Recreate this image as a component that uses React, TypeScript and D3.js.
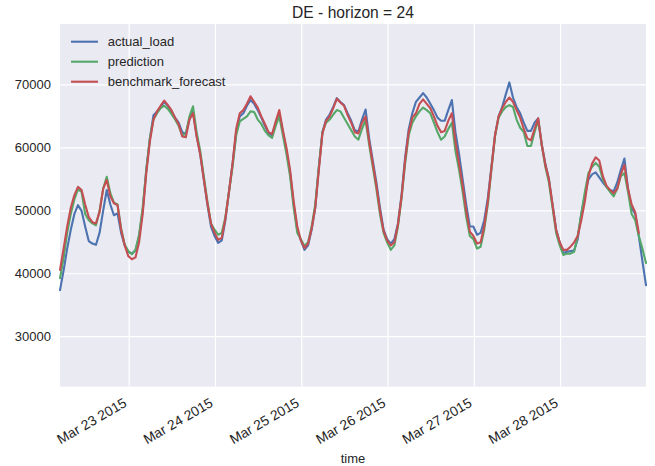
import * as d3 from 'd3'

// hourly series, first point 2015-03-22 04:45 UTC
const START = Date.UTC(2015, 2, 22, 4, 45)

const actualLoad: (number | null)[] = [
  // Mar 22
  37400, 40500, 44000, 47000, 49500, 50900, 50000, 47500, 45200, 44800, 44600, 46500, 50000, 53300, 51000, 49300, 49600, 46500, 44500,
  // Mar 23
  43500, 43200, 43700, 46000, 50000, 56500, 61500, 65200, 65800, 66500, 67300, 66700, 65800, 64800, 64000, 62500, 62200, 64500, 65800, 62000, 59000, 55000, 51000, 47500,
  // Mar 24
  46000, 44900, 45300, 48500, 53000, 57500, 62500, 65000, 65500, 66700, 67600, 67000, 66000, 64800, 63500, 62300, 62000, 64000, 65500, 62500, 59500, 56000, 51000, 47000,
  // Mar 25
  45300, 43800, 44500, 47000, 50500, 57000, 62500, 64500, 65300, 66500, 67900, 67300, 66800, 65500, 64300, 62800, 62600, 64500, 66100, 61500, 58000, 54500, 50500, 47000,
  // Mar 26
  45500, 44800, 45500, 48000, 52500, 58500, 63000, 65500, 67300, 68000, 68700, 68000, 67000, 66000, 64800, 64300, 64300, 66000, 67600, 62500, 59000, 55000, 51000, 47500,
  // Mar 27
  47500, 46200, 46500, 48500, 52000, 57000, 62000, 65000, 66500, 68500, 70400, 68000, 66500, 65500, 64000, 62700, 62700, 64000, 64700, 60500, 57500, 55000, 51000, 47000,
  // Mar 28
  45000, 43300, 43500, 43600, 43700, 45500, 49500, 52500, 55000, 55800, 56100, 55300, 54500, 53800, 53300, 53100, 54500, 56500, 58300, 53500, 50500, 49500, 46000, 42000,
  38200,
]

const prediction: (number | null)[] = [
  39300, 42500, 46500, 49500, 51800, 53400, 53000, 49500, 48500, 48000, 47700, 50000, 53500, 55400, 52800, 51300, 51000, 47200, 44600,
  43600, 43100, 43800, 46200, 50500, 56500, 61500, 64500, 65500, 66300, 66700, 66200, 65400, 64500, 63500, 62000, 62200, 65000, 66600, 62500, 59500, 55500, 51500, 48000,
  47000, 46200, 46500, 49000, 53000, 57000, 62000, 64200, 64600, 65000, 65800, 65700, 64500, 63800, 62700, 62000, 61600, 63500, 65000, 62000, 59000, 55500, 50500, 46500,
  45500, 44400, 45000, 47500, 51000, 57000, 62500, 64000, 64500, 65300, 66000, 65800, 64800, 63800, 62800, 61800, 61300, 63000, 64400, 60500, 57000, 53500, 49500, 46500,
  45000, 43800, 44500, 47500, 52000, 57500, 62000, 64000, 65000, 65800, 66400, 66000, 65500, 64000, 62500, 61300, 61800, 63000, 64000, 59500, 56500, 53000, 49000, 46000,
  45500, 44000, 44300, 47000, 51000, 56500, 61800, 64800, 65800, 66500, 66800, 66500, 64500, 63200, 62500, 60300, 60300, 62500, 64400, 60500, 57000, 54500, 50500, 46500,
  44500, 43000, 43200, 43200, 43500, 46000, 49500, 53000, 56000, 57000, 57600, 57000, 55000, 53800, 53000, 52300, 53500, 55500, 56000, 53000, 49500, 48500, 46000, 44000,
  41700,
]

const benchmarkForecast: (number | null)[] = [
  40600, 44000, 47500, 50500, 52500, 53800, 53300, 51000, 49000, 48200, 48000, 49800, 53500, 54900, 52300, 51200, 50900, 47000, 44500,
  42800, 42300, 42600, 45000, 49500, 56000, 61000, 64500, 65800, 66700, 67500, 66800, 66000, 64800, 63800, 61800, 61700, 64500, 65500, 61800, 59000, 55000, 51200, 48000,
  46500, 45400, 45700, 48800, 53000, 57500, 63000, 65500, 66000, 67000, 68200, 67300, 66400, 65000, 63800, 62500, 62200, 64200, 66000, 62800, 60000, 56500, 51500, 47500,
  45300, 44100, 44800, 47200, 50500, 56500, 62300, 64300, 65000, 66300, 67800, 67200, 66700, 65200, 64000, 62500, 62300, 64000, 65000, 61000, 57500, 54000, 50000, 46800,
  45300, 44500, 45000, 47800, 52200, 58000, 62500, 64800, 65500, 67000, 67700, 67000, 66300, 65000, 63500, 62500, 62700, 64300, 65500, 61000, 57500, 54000, 50000, 46700,
  46000, 44800, 45000, 47500, 51500, 56800, 62000, 65000, 66300, 67300, 68000, 67300, 66000, 64800, 63000, 61500, 61200, 63000, 64700, 60500, 57300, 55000, 51000, 47000,
  45000, 43800, 43800, 44300, 45000, 46000, 48500, 51500, 55500, 57500, 58500, 58000, 55500, 54000, 53300, 52800, 53500, 55800, 57300, 53500, 51000, 49800, 46500, null,
  null,
]

const seriesNames = ['actual_load', 'prediction', 'benchmark_forecast']
const seriesColors = ['#4C72B0', '#55A868', '#C44E52']
const yTicks = [30000, 40000, 50000, 60000, 70000]

const WIDTH = 655
const HEIGHT = 466
const margin = { top: 24, right: 9, bottom: 79.3, left: 60 }
const FONT = '"Liberation Sans", Arial, sans-serif'

export default function App() {
  const innerW = WIDTH - margin.left - margin.right
  const innerH = HEIGHT - margin.top - margin.bottom
  const times = actualLoad.map((_, i) => new Date(START + i * 3600e3))

  const x = d3.scaleUtc()
    .domain([times[0], times[times.length - 1]])
    .range([0, innerW])
  const y = d3.scaleLinear().domain([22060, 79680]).range([innerH, 0])

  const line = d3.line<number | null>()
    .defined(d => d != null)
    .x((_, i) => x(times[i]))
    .y(d => y(d as number))

  const days = d3.utcDay.range(new Date(Date.UTC(2015, 2, 23)), new Date(Date.UTC(2015, 2, 29)))
  const fmt = d3.utcFormat('%b %d %Y')
  const all = [actualLoad, prediction, benchmarkForecast]

  return (
    <svg width={WIDTH} height={HEIGHT} style={{ position: 'absolute', left: 0, top: 0, fontFamily: FONT }}>
      <rect width={WIDTH} height={HEIGHT} fill="#fff" />
      <text x={margin.left + innerW / 2} y={18} textAnchor="middle" fontSize={15.6} fill="#262626">
        DE - horizon = 24
      </text>
      <g transform={`translate(${margin.left},${margin.top})`}>
        <rect width={innerW} height={innerH} fill="#EAEAF2" />
        {yTicks.map(t => (
          <g key={t}>
            <line x1={0} x2={innerW} y1={y(t)} y2={y(t)} stroke="#fff" strokeWidth={1.2} />
            <text x={-9} y={y(t)} dy="0.35em" textAnchor="end" fontSize={13} fill="#262626">{t}</text>
          </g>
        ))}
        {days.map(d => (
          <g key={+d}>
            <line x1={x(d)} x2={x(d)} y1={0} y2={innerH} stroke="#fff" strokeWidth={1.2} />
            <text transform={`translate(${x(d) - 1.5},${innerH + 19}) rotate(-30)`}
              textAnchor="end" fontSize={13.8} fill="#262626">{fmt(d)}</text>
          </g>
        ))}
        {all.map((s, i) => (
          <path key={i} d={line(s) || ''} fill="none" stroke={seriesColors[i]}
            strokeWidth={2.1} strokeLinejoin="round" strokeLinecap="round" />
        ))}
        {seriesNames.map((n, i) => (
          <g key={n} transform={`translate(11,${17.7 + i * 20})`}>
            <line x1={0} x2={27} stroke={seriesColors[i]} strokeWidth={2.1} />
            <text x={36.7} dy="0.35em" fontSize={13} fill="#262626">{n}</text>
          </g>
        ))}
      </g>
      <text x={margin.left + innerW / 2} y={463} textAnchor="middle" fontSize={13} fill="#262626">time</text>
    </svg>
  )
}
